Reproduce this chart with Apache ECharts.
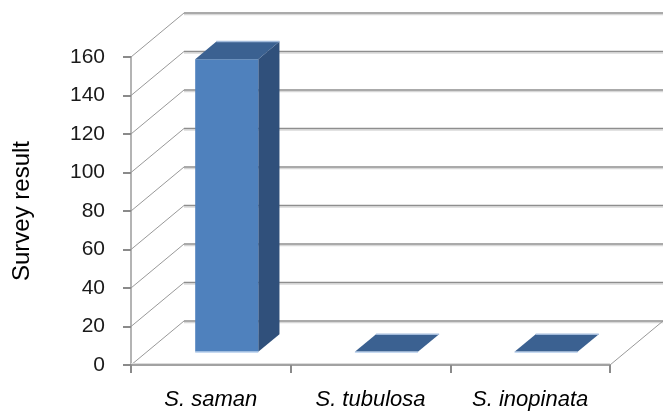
<!DOCTYPE html>
<html>
<head>
<meta charset="utf-8">
<script src="https://cdn.jsdelivr.net/npm/echarts@6/dist/echarts.min.js"></script>
<style>
  html, body { margin: 0; padding: 0; background: #ffffff; }
  #chart { width: 663px; height: 412px; }
</style>
</head>
<body>
<div id="chart"></div>
<script>
// Survey counts per species
const categories = ['S. saman', 'S. tubulosa', 'S. inopinata'];
const surveyValues = [152, 0, 0];
const yTickValues = [0, 20, 40, 60, 80, 100, 120, 140, 160];
const yMin = 0;
const yMax = 160;
const yStep = 20;

// Pseudo 3-D projection: offset (px) of the back wall from the front plane
const DEPTH_X = 53;
const DEPTH_Y = 44;
// Bar placement inside the depth (fractions) and width as fraction of a band
const BAR_FRONT = 0.3;
const BAR_BACK = 0.7;
const BAR_WIDTH = 0.395;

const FONT = '"Liberation Sans", Arial, sans-serif';

// Back wall gridline + diagonal side-wall line for one tick value
function renderWall(params, api) {
  const v = api.value(1);
  const cs = params.coordSys;
  const y = api.coord([0, v])[1];
  const x0 = cs.x;
  const x1 = cs.x + cs.width;
  const children = [
    { type: 'line', shape: { x1: x0, y1: y, x2: x0 + DEPTH_X, y2: y - DEPTH_Y },
      style: { stroke: '#999999', lineWidth: 1 } },
    { type: 'line', shape: { x1: x0 + DEPTH_X, y1: y - DEPTH_Y + 1.6, x2: x1 + DEPTH_X + 2, y2: y - DEPTH_Y + 1.6 },
      style: { stroke: '#d8d8d8', lineWidth: 1.2 } },
    { type: 'line', shape: { x1: x0 + DEPTH_X, y1: y - DEPTH_Y, x2: x1 + DEPTH_X + 2, y2: y - DEPTH_Y },
      style: { stroke: '#8e8e8e', lineWidth: 1.6 } }
  ];
  if (v === yMin) {
    // right edge of the floor
    children.push({ type: 'line', shape: { x1: x1, y1: y, x2: x1 + DEPTH_X, y2: y - DEPTH_Y },
      style: { stroke: '#999999', lineWidth: 1 } });
    children.push({ type: 'line', shape: { x1: x0, y1: y - 1.5, x2: x1, y2: y - 1.5 },
      style: { stroke: '#dcdcdc', lineWidth: 1 } });
  }
  return { type: 'group', children: children };
}

// Extruded 3-D column for one category
function renderBar(params, api) {
  const idx = api.value(0);
  const v = api.value(1);
  const base = api.coord([idx, 0]);
  const top = api.coord([idx, v]);
  const band = api.size([1, 0])[0];
  const w = band * BAR_WIDTH;
  const fx = DEPTH_X * BAR_FRONT, fy = DEPTH_Y * BAR_FRONT;
  const bx = DEPTH_X * (BAR_BACK - BAR_FRONT), by = DEPTH_Y * (BAR_BACK - BAR_FRONT);
  const xl = base[0] - w / 2 + fx;
  const xr = xl + w;
  const yb = base[1] - fy;
  const yt = top[1] - fy;
  const children = [];
  if (yb - yt > 0.5) {
    children.push({ type: 'polygon',
      shape: { points: [[xr, yt], [xr + bx, yt - by], [xr + bx, yb - by], [xr, yb]] },
      style: { fill: '#30507b' } });
    children.push({ type: 'rect', shape: { x: xl, y: yt, width: w, height: yb - yt },
      style: { fill: '#4f81bd' } });
  }
  children.push({ type: 'polygon',
    shape: { points: [[xl, yt], [xr, yt], [xr + bx, yt - by], [xl + bx, yt - by]] },
    style: { fill: '#3b6191' } });
  children.push({ type: 'line', shape: { x1: xl + bx, y1: yt - by, x2: xr + bx, y2: yt - by },
    style: { stroke: '#a3bbdb', lineWidth: 1.5 } });
  children.push({ type: 'line', shape: { x1: xl, y1: yb + 0.5, x2: xr, y2: yb + 0.5 },
    style: { stroke: '#c6d9f1', lineWidth: 1.5 } });
  return { type: 'group', children: children };
}

const chart = echarts.init(document.getElementById('chart'), null, { renderer: 'canvas' });
chart.setOption({
  animation: false,
  backgroundColor: '#ffffff',
  grid: { left: 131, right: 53, top: 57, bottom: 47, containLabel: false },
  xAxis: {
    type: 'category',
    data: categories,
    boundaryGap: true,
    axisLine: { show: true, lineStyle: { color: '#a2a2a2', width: 2 } },
    axisTick: { show: true, length: 8, alignWithLabel: false, lineStyle: { color: '#8a8a8a', width: 2 } },
    axisLabel: { margin: 24, color: '#000000', fontFamily: FONT, fontSize: 22, fontStyle: 'italic' },
    splitLine: { show: false }
  },
  yAxis: {
    type: 'value',
    min: yMin,
    max: yMax,
    interval: yStep,
    name: 'Survey result',
    nameLocation: 'middle',
    nameRotate: 90,
    nameGap: 97,
    nameTextStyle: { color: '#000000', fontFamily: FONT, fontSize: 24 },
    axisLine: { show: true, lineStyle: { color: '#b4b4b4', width: 2 } },
    axisTick: { show: true, length: 8, lineStyle: { color: '#8a8a8a', width: 2 } },
    axisLabel: { margin: 26, color: '#1a1a1a', fontFamily: FONT, fontSize: 21 },
    splitLine: { show: false }
  },
  series: [
    {
      type: 'custom',
      name: 'wall',
      renderItem: renderWall,
      data: yTickValues.map(function (v) { return [0, v]; }),
      clip: false,
      silent: true,
      z: 1
    },
    {
      type: 'custom',
      name: 'Survey result',
      renderItem: renderBar,
      data: surveyValues.map(function (v, i) { return [i, v]; }),
      clip: false,
      z: 3
    }
  ]
});
</script>
</body>
</html>
